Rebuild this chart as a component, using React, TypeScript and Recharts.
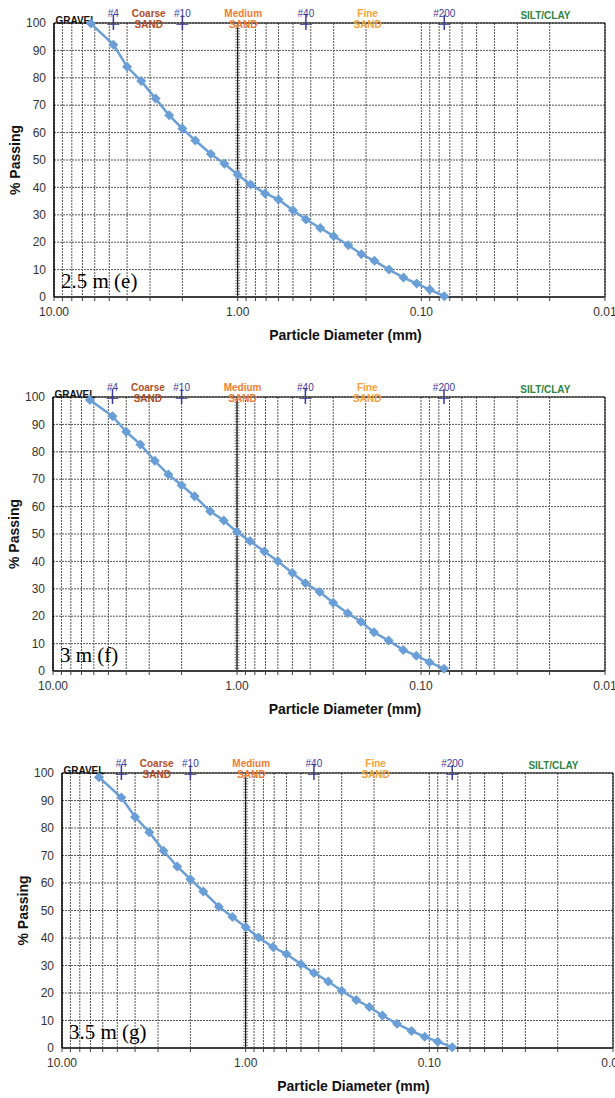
import React from 'react';
import { LineChart, Line, XAxis, YAxis, CartesianGrid, ReferenceLine } from 'recharts';

// Sieve sizes (mm) of the measured points
const diameters = [6.3, 4.75, 4, 3.35, 2.8, 2.36, 2, 1.7, 1.4, 1.18, 1, 0.85, 0.71, 0.6, 0.5, 0.425, 0.355, 0.3, 0.25, 0.212, 0.18, 0.15, 0.125, 0.106, 0.09, 0.075];

// % passing for each depth
const passing25 = [99.8, 92.1, 84.0, 78.8, 72.4, 66.3, 61.5, 57.1, 52.2, 48.6, 44.6, 41.1, 37.8, 35.6, 31.7, 28.3, 25.2, 22.2, 18.9, 15.6, 13.2, 10.0, 7.1, 4.9, 2.7, 0.3];
const passing3 = [98.9, 93.0, 87.3, 82.7, 76.7, 71.7, 67.8, 63.8, 58.3, 54.9, 50.7, 47.4, 43.6, 40.1, 35.8, 32.0, 28.8, 24.9, 21.1, 18.0, 14.1, 11.1, 7.7, 5.6, 3.2, 0.8];
const passing35 = [98.5, 91.1, 84.0, 78.5, 71.7, 66.0, 61.4, 56.9, 51.4, 47.6, 43.9, 40.2, 36.7, 34.2, 30.5, 27.3, 24.2, 20.8, 17.5, 14.9, 11.8, 8.8, 6.2, 4.1, 2.3, 0.3];

// Axis ticks
const xTicks = [10, 9, 8, 7, 6, 5, 4, 3, 2, 1, 0.9, 0.8, 0.7, 0.6, 0.5, 0.4, 0.3, 0.2, 0.1, 0.09, 0.08, 0.07, 0.06, 0.05, 0.04, 0.03, 0.02, 0.01];
const xLabelTicks = [10, 1, 0.1, 0.01];
const yTicks = [0, 10, 20, 30, 40, 50, 60, 70, 80, 90, 100];

// Sieve markers
const sieveLabels = ['#4', '#10', '#40', '#200'];
const sieveSizes = [4.75, 2, 0.425, 0.075];

// Soil zone labels (anchored at a particle diameter)
const zoneNames = [['GRAVEL'], ['Coarse', 'SAND'], ['Medium', 'SAND'], ['Fine', 'SAND'], ['SILT/CLAY']];
const zoneAt = [7.6, 3.05, 0.933, 0.196, 0.0211];
const zoneColors = ['#111111', '#B04E28', '#F27B35', '#F5A23A', '#2E8442'];

const FONT = '"Liberation Sans", Arial, sans-serif';
const BLUE = '#6A9ED6';
const SIEVE = '#3A3A9C';

const Diamond = (props: any) => {
  const { cx, cy } = props;
  if (cx == null || cy == null) return null;
  const r = 5;
  return <path d={`M${cx},${cy - r}L${cx + r},${cy}L${cx},${cy + r}L${cx - r},${cy}Z`} fill={BLUE} />;
};

const AxisAtOne = (p: any) => {
  const top = Math.min(p.y1, p.y2);
  const bot = Math.max(p.y1, p.y2);
  const x = p.x1;
  const marks: React.ReactNode[] = [];
  for (let i = 1; i < 100; i++) {
    const y = top + ((bot - top) * i) / 100;
    marks.push(<line key={i} x1={x - 2.5} x2={x + 2.5} y1={y} y2={y} />);
  }
  return (
    <g>
      <line x1={x} x2={x} y1={top} y2={bot} stroke="#000" strokeWidth={1} />
      <g stroke="#333" strokeWidth={0.6}>{marks}</g>
    </g>
  );
};

const makeSieve = (label: string) => (p: any) => {
  const top = Math.min(p.y1, p.y2);
  const x = p.x1;
  return (
    <g>
      <line x1={x} x2={x} y1={top - 8} y2={top + 7} stroke={SIEVE} strokeWidth={1.5} />
      <line x1={x - 6} x2={x + 6} y1={top + 1.5} y2={top + 1.5} stroke={SIEVE} strokeWidth={0.8} />
      <text x={x} y={top - 6} textAnchor="middle" fill={SIEVE} fontSize={10} fontFamily={FONT}>{label}</text>
    </g>
  );
};

const makeZone = (lines: string[], color: string) => (p: any) => {
  const top = Math.min(p.y1, p.y2);
  const x = p.x1;
  if (lines.length === 2) {
    return (
      <g fill={color} fontSize={10} fontWeight="bold" fontFamily={FONT} textAnchor="middle">
        <text x={x} y={top - 6}>{lines[0]}</text>
        <text x={x} y={top + 5}>{lines[1]}</text>
      </g>
    );
  }
  const dy = lines[0] === 'GRAVEL' ? 1 : -4;
  return (
    <text x={x} y={top + dy} fill={color} fontSize={10} fontWeight="bold" fontFamily={FONT} textAnchor="middle">{lines[0]}</text>
  );
};

const makeTag = (tag: string) => (p: any) => {
  const left = Math.min(p.x1, p.x2);
  const y = p.y1;
  return (
    <text x={left + 7} y={y - 9} fontSize={21} fontFamily='"Liberation Serif", "Times New Roman", serif' fill="#000">{tag}</text>
  );
};

const XLabel = (props: any) => {
  const vb = props.viewBox;
  if (!vb) return null;
  return (
    <text x={vb.x + vb.width / 2 + 16} y={vb.y + 43} textAnchor="middle" fontSize={14} fontWeight="bold" fontFamily={FONT} fill="#111">
      Particle Diameter (mm)
    </text>
  );
};

const YLabel = (props: any) => {
  const vb = props.viewBox;
  if (!vb) return null;
  const x = vb.x + vb.width - 34;
  const y = vb.y + vb.height / 2;
  return (
    <text x={x} y={y} transform={`rotate(-90, ${x}, ${y})`} textAnchor="middle" fontSize={14} fontWeight="bold" fontFamily={FONT} fill="#111">
      % Passing
    </text>
  );
};

type GradProps = { top: number; left: number; right: number; plotH: number; values: number[]; tag: string };

const Gradation = ({ top, left, right, plotH, values, tag }: GradProps) => {
  const data = diameters.map((d, i) => ({ d, p: values[i] }));
  const width = 615;
  const height = 23 + plotH + 50;
  return (
    <div style={{ position: 'absolute', top, left: 0, width, height }}>
      <LineChart width={width} height={height} data={data} margin={{ top: 23, right, bottom: 20, left: left - 40 }}>
        <CartesianGrid stroke="#555" strokeDasharray="2 1" />
        <XAxis
          dataKey="d"
          type="number"
          scale="log"
          domain={[0.01, 10]}
          reversed
          allowDataOverflow
          ticks={xTicks}
          interval={0}
          tickFormatter={(v: number) => (xLabelTicks.includes(v) ? v.toFixed(2) : '')}
          height={30}
          tickSize={4}
          tickMargin={6}
          axisLine={{ stroke: '#404040', strokeWidth: 2 }}
          tickLine={{ stroke: '#404040' }}
          tick={{ fill: '#333', fontSize: 12, fontFamily: FONT }}
          label={<XLabel />}
        />
        <YAxis
          type="number"
          domain={[0, 100]}
          ticks={yTicks}
          interval={0}
          width={40}
          tickLine={false}
          tickSize={6}
          tickMargin={2}
          axisLine={{ stroke: '#000', strokeWidth: 1.5 }}
          tick={{ fill: '#333', fontSize: 12, fontFamily: FONT }}
          label={<YLabel />}
        />
        <ReferenceLine y={100} stroke="#000" strokeWidth={1} />
        <ReferenceLine x={0.01} stroke="#000" strokeWidth={1} />
        <ReferenceLine x={1} shape={AxisAtOne} />
        <ReferenceLine y={0} shape={makeTag(tag)} />
        {sieveSizes.map((s, i) => (
          <ReferenceLine key={'s' + i} x={s} shape={makeSieve(sieveLabels[i])} />
        ))}
        {zoneAt.map((z, i) => (
          <ReferenceLine key={'z' + i} x={z} shape={makeZone(zoneNames[i], zoneColors[i])} />
        ))}
        <Line dataKey="p" stroke={BLUE} strokeWidth={2.5} dot={<Diamond />} activeDot={false} isAnimationActive={false} />
      </LineChart>
    </div>
  );
};

export default function App() {
  return (
    <div style={{ position: 'absolute', top: 0, left: 0, width: 615, height: 1098, background: '#fff', overflow: 'hidden' }}>
      <Gradation top={0} left={54} right={10} plotH={274} values={passing25} tag="2.5 m (e)" />
      <Gradation top={374} left={53} right={10} plotH={274} values={passing3} tag="3 m (f)" />
      <Gradation top={750} left={62} right={2} plotH={275} values={passing35} tag="3.5 m (g)" />
    </div>
  );
}
